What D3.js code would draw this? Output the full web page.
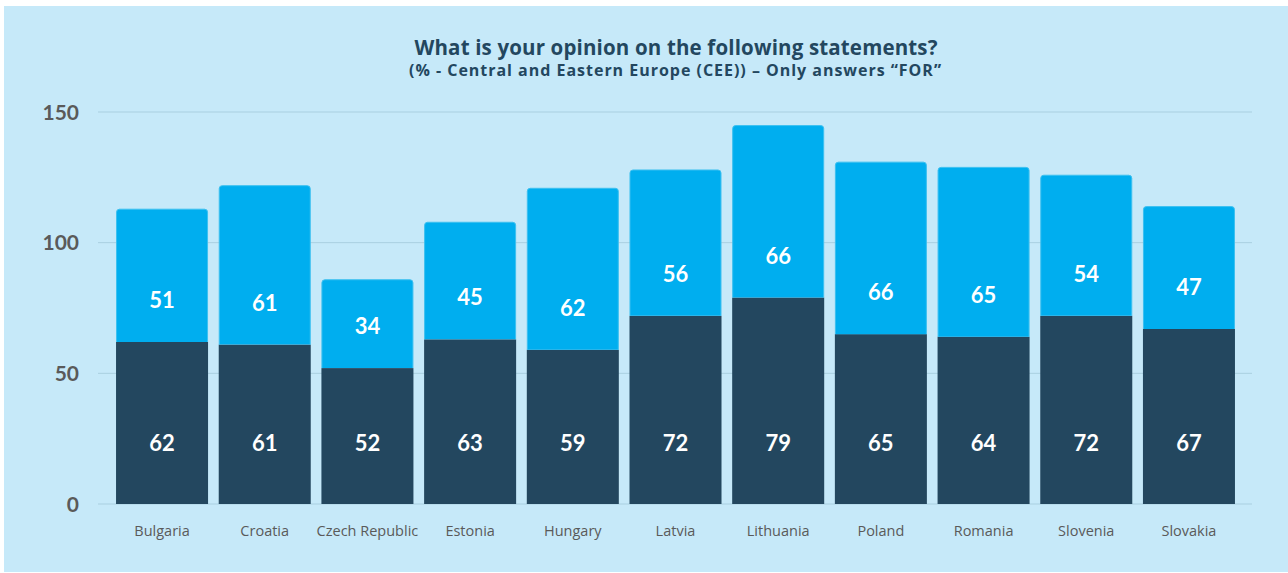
<!DOCTYPE html>
<style>
    body, html {
        margin: 0;
        padding: 0;
        background: #fff;
        overflow: hidden;
    }
    text { font-family: Lato, "Open Sans", sans-serif; }
</style>
<svg width="1288" height="573"></svg>
<script src="https://d3js.org/d3.v7.min.js"></script>
<script>
    var countries = ["Bulgaria", "Croatia", "Czech Republic", "Estonia", "Hungary", "Latvia",
        "Lithuania", "Poland", "Romania", "Slovenia", "Slovakia"];
    var darkValues = [62, 61, 52, 63, 59, 72, 79, 65, 64, 72, 67];
    var lightValues = [51, 61, 34, 45, 62, 56, 66, 66, 65, 54, 47];
    var yTicks = [0, 50, 100, 150];

    var svg = d3.select("svg");

    // panel background
    svg.append("rect")
        .attr("x", 4).attr("y", 6)
        .attr("width", 1284).attr("height", 566)
        .attr("fill", "#c6e9f9");

    var x = d3.scaleBand()
        .domain(countries)
        .range([110.7, 1240.3])
        .paddingInner(0.104)
        .paddingOuter(0.052);

    var y = d3.scaleLinear()
        .domain([0, 150])
        .range([504, 112]);

    // gridlines + y labels
    var grid = svg.append("g");
    grid.selectAll("line")
        .data(yTicks)
        .enter().append("line")
        .attr("x1", 98).attr("x2", 1252)
        .attr("y1", function (d) { return y(d); })
        .attr("y2", function (d) { return y(d); })
        .attr("stroke", "#a9cfe0")
        .attr("stroke-width", 1);

    grid.selectAll("text")
        .data(yTicks)
        .enter().append("text")
        .attr("x", 79)
        .attr("y", function (d) { return y(d); })
        .attr("dy", "0.36em")
        .attr("text-anchor", "end")
        .attr("font-size", 21)
        .attr("font-weight", 700)
        .attr("fill", "#5a5a5a")
        .text(function (d) { return d; });

    var data = countries.map(function (c, i) {
        return { name: c, dark: darkValues[i], light: lightValues[i] };
    });

    var bars = svg.append("g");

    // dark bottom segments
    bars.selectAll("rect.dark")
        .data(data)
        .enter().append("rect")
        .attr("class", "dark")
        .attr("x", function (d) { return x(d.name); })
        .attr("y", function (d) { return y(d.dark); })
        .attr("width", x.bandwidth())
        .attr("height", function (d) { return y(0) - y(d.dark); })
        .attr("fill", "#23475f");

    // light top segments with rounded top corners
    function topPath(d) {
        var x0 = x(d.name) + 0.5, w = x.bandwidth() - 1, r = 3;
        var yb = y(d.dark), yt = y(d.dark + d.light) + 0.5;
        return "M" + x0 + "," + yb +
            "V" + (yt + r) +
            "Q" + x0 + "," + yt + " " + (x0 + r) + "," + yt +
            "H" + (x0 + w - r) +
            "Q" + (x0 + w) + "," + yt + " " + (x0 + w) + "," + (yt + r) +
            "V" + yb;
    }
    bars.selectAll("path.light")
        .data(data)
        .enter().append("path")
        .attr("class", "light")
        .attr("d", topPath)
        .attr("fill", "#00aeef")
        .attr("stroke", "#3cc0f0")
        .attr("stroke-width", 1);

    // value labels
    bars.selectAll("text.darkLabel")
        .data(data)
        .enter().append("text")
        .attr("x", function (d) { return x(d.name) + x.bandwidth() / 2; })
        .attr("y", y(0) - 61)
        .attr("dy", "0.36em")
        .attr("text-anchor", "middle")
        .attr("font-size", 22)
        .attr("font-weight", 700)
        .attr("fill", "#fff")
        .text(function (d) { return d.dark; });

    bars.selectAll("text.lightLabel")
        .data(data)
        .enter().append("text")
        .attr("x", function (d) { return x(d.name) + x.bandwidth() / 2; })
        .attr("y", function (d) { return y(d.dark + 16); })
        .attr("dy", "0.36em")
        .attr("text-anchor", "middle")
        .attr("font-size", 22)
        .attr("font-weight", 700)
        .attr("fill", "#fff")
        .text(function (d) { return d.light; });

    // x axis labels
    svg.append("g").selectAll("text")
        .data(countries)
        .enter().append("text")
        .attr("x", function (d) { return x(d) + x.bandwidth() / 2; })
        .attr("y", 536)
        .attr("text-anchor", "middle")
        .style("font-family", "'Open Sans', sans-serif")
        .attr("font-size", 14.5)
        .attr("fill", "#5a5a5a")
        .text(function (d) { return d; });

    // titles
    svg.append("text")
        .attr("x", 676).attr("y", 55)
        .attr("text-anchor", "middle")
        .style("font-family", "'Open Sans', sans-serif")
        .attr("font-size", 20.5)
        .attr("font-weight", 700)
        .attr("textLength", 523)
        .attr("lengthAdjust", "spacing")
        .attr("fill", "#23475f")
        .text("What is your opinion on the following statements?");

    svg.append("text")
        .attr("x", 675).attr("y", 76)
        .attr("text-anchor", "middle")
        .style("font-family", "'Open Sans', sans-serif")
        .attr("font-size", 16)
        .attr("font-weight", 700)
        .attr("textLength", 532)
        .attr("lengthAdjust", "spacing")
        .attr("fill", "#23475f")
        .text("(% - Central and Eastern Europe (CEE)) \u2013 Only answers \u201CFOR\u201D");
</script>
